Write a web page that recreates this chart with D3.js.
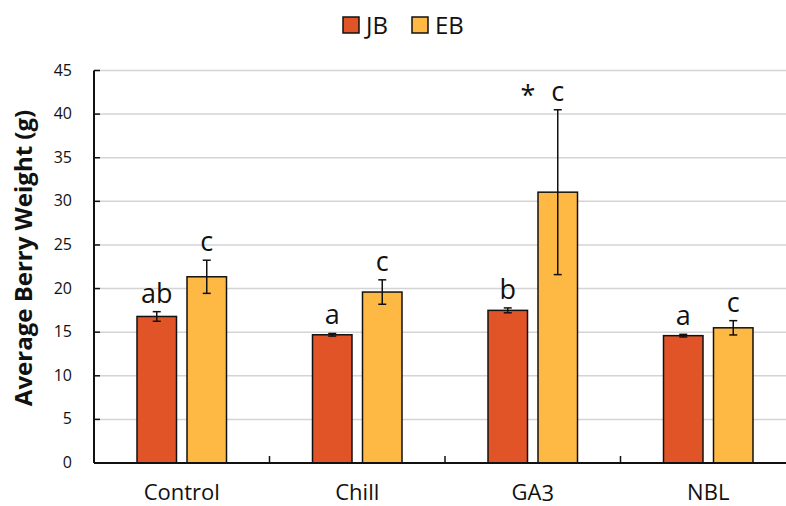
<!DOCTYPE html>
<meta charset="utf-8">
<style>
body { margin: 0; background: #fff; }
text { font-family: "Open Sans", "DejaVu Sans", sans-serif; fill: #111; }
.grid line { stroke: #d4d4d4; stroke-width: 1.5px; }
</style>
<svg width="786" height="506"></svg>
<script src="https://d3js.org/d3.v7.min.js"></script>
<script>

var categories = ["Control", "Chill", "GA3", "NBL"];
var series = ["JB", "EB"];
var jbValues = [16.8, 14.7, 17.5, 14.6];
var ebValues = [21.35, 19.6, 31.05, 15.5];
var jbErr = [0.55, 0.15, 0.28, 0.15];
var ebErr = [1.9, 1.4, 9.45, 0.82];
var jbLetters = ["ab", "a", "b", "a"];
var ebLetters = ["c", "c", "c", "c"];
var yTicks = [0, 5, 10, 15, 20, 25, 30, 35, 40, 45];
var colors = { JB: "#e05427", EB: "#feb945" };

var svg = d3.select("svg");
var plotLeft = 94, plotRight = 796, plotTop = 70.5, plotBottom = 463;

var x = d3.scaleBand().domain(categories).range([plotLeft, plotRight]);
var y = d3.scaleLinear().domain([0, 45]).range([plotBottom, plotTop]);
var barW = 39.5, gap = 10.5;

// gridlines
svg.append("g").attr("class", "grid")
  .selectAll("line").data(yTicks.filter(function(d) { return d > 0; }))
  .enter().append("line")
    .attr("x1", plotLeft).attr("x2", 786)
    .attr("y1", function(d) { return y(d); })
    .attr("y2", function(d) { return y(d); });

// one row per bar
var rows = [];
categories.forEach(function(c, i) {
  rows.push({ cat: c, s: "JB", v: jbValues[i], e: jbErr[i], t: jbLetters[i], off: -gap / 2 - barW });
  rows.push({ cat: c, s: "EB", v: ebValues[i], e: ebErr[i], t: ebLetters[i], off: gap / 2 });
});
function cx(d) { return x(d.cat) + x.bandwidth() / 2 + d.off; }

svg.append("g").selectAll("rect").data(rows).enter().append("rect")
  .attr("x", cx)
  .attr("y", function(d) { return y(d.v); })
  .attr("width", barW)
  .attr("height", function(d) { return y(0) - y(d.v); })
  .attr("fill", function(d) { return colors[d.s]; })
  .attr("stroke", "#111").attr("stroke-width", 1.5);

// error bars
var eb = svg.append("g").attr("stroke", "#111").attr("stroke-width", 1.5)
  .selectAll("g").data(rows).enter().append("g");
eb.append("line")
  .attr("x1", function(d) { return cx(d) + barW / 2; })
  .attr("x2", function(d) { return cx(d) + barW / 2; })
  .attr("y1", function(d) { return y(d.v + d.e); })
  .attr("y2", function(d) { return y(d.v - d.e); });
[1, -1].forEach(function(sgn) {
  eb.append("line")
    .attr("x1", function(d) { return cx(d) + barW / 2 - 4; })
    .attr("x2", function(d) { return cx(d) + barW / 2 + 4; })
    .attr("y1", function(d) { return y(d.v + sgn * d.e); })
    .attr("y2", function(d) { return y(d.v + sgn * d.e); });
});

// significance letters
svg.append("g").selectAll("text").data(rows).enter().append("text")
  .attr("x", function(d) { return cx(d) + barW / 2; })
  .attr("y", function(d) { return y(d.v + d.e) - 9; })
  .attr("text-anchor", "middle")
  .style("font-size", "27px")
  .text(function(d) { return d.t; });

svg.append("text")
  .attr("x", 528).attr("y", y(40.4) - 6)
  .attr("text-anchor", "middle")
  .style("font-size", "27px")
  .text("*");

// axes
svg.append("line").attr("x1", plotLeft).attr("x2", 786).attr("y1", plotBottom).attr("y2", plotBottom)
  .attr("stroke", "#111").attr("stroke-width", 2);
svg.append("line").attr("x1", plotLeft).attr("x2", plotLeft).attr("y1", plotTop).attr("y2", plotBottom)
  .attr("stroke", "#111").attr("stroke-width", 2);

var yAxis = svg.append("g");
yAxis.selectAll("line").data(yTicks).enter().append("line")
  .attr("x1", plotLeft).attr("x2", plotLeft + 6)
  .attr("y1", function(d) { return y(d); }).attr("y2", function(d) { return y(d); })
  .attr("stroke", "#111").attr("stroke-width", 1.5);
yAxis.selectAll("text").data(yTicks).enter().append("text")
  .attr("x", 72).attr("y", function(d) { return y(d) + 5; })
  .attr("text-anchor", "end")
  .style("font-size", "16px")
  .text(function(d) { return d; });

// category separators
svg.append("g").selectAll("line").data(categories.slice(1)).enter().append("line")
  .attr("x1", function(d) { return x(d); }).attr("x2", function(d) { return x(d); })
  .attr("y1", plotBottom).attr("y2", plotBottom - 7)
  .attr("stroke", "#111").attr("stroke-width", 1.5);

var xl = svg.append("g").selectAll("text").data(categories).enter().append("text")
  .attr("x", function(d) { return x(d) + x.bandwidth() / 2; })
  .attr("y", 500)
  .attr("text-anchor", "middle")
  .style("font-size", "22px");
xl.each(function(d) {
  var t = d3.select(this);
  if (d === "GA3") {
    t.append("tspan").text("GA");
    t.append("tspan").attr("dy", 1).text("3");
  } else {
    t.text(d);
  }
});

svg.append("text")
  .attr("transform", "translate(32,258) rotate(-90)")
  .attr("text-anchor", "middle")
  .style("font-size", "24px").style("font-weight", "bold")
  .text("Average Berry Weight (g)");

// legend
var legX = [343, 412];
var lg = svg.append("g").selectAll("g").data(series).enter().append("g")
  .attr("transform", function(d, i) { return "translate(" + legX[i] + ",17)"; });
lg.append("rect").attr("width", 16).attr("height", 16)
  .attr("fill", function(d) { return colors[d]; })
  .attr("stroke", "#111").attr("stroke-width", 1.5);
lg.append("text").attr("x", 23).attr("y", 17)
  .style("font-size", "24px")
  .text(function(d) { return d; });

</script>
